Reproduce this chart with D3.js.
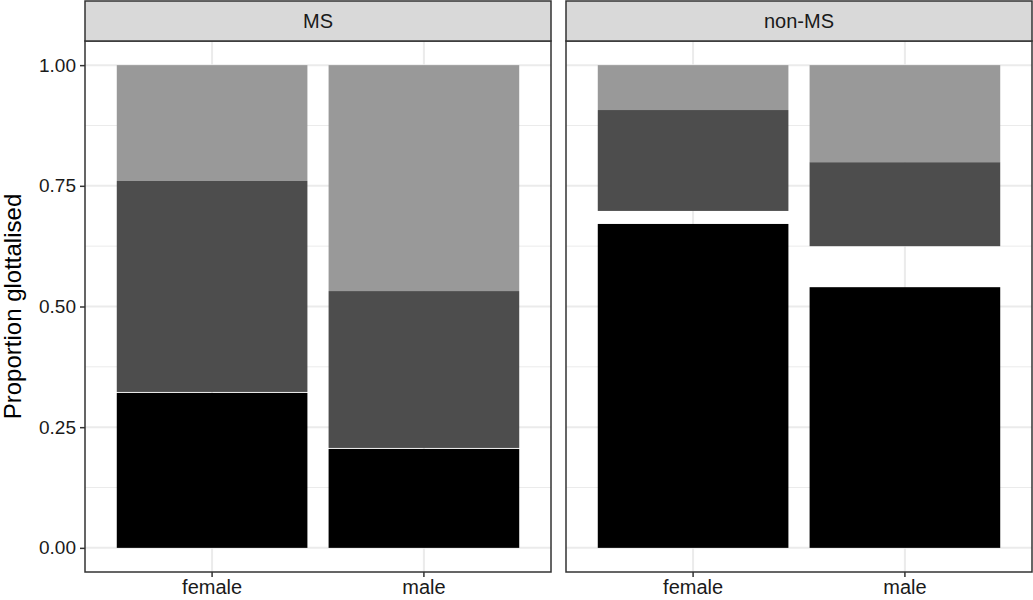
<!DOCTYPE html>
<html>
<head>
<meta charset="utf-8">
<script src="https://cdn.jsdelivr.net/npm/d3@7"></script>
<style>
  body { margin: 0; background: #fff; }
  svg { font-family: "Liberation Sans", Arial, sans-serif; }
</style>
</head>
<body>
<svg id="chart" width="1033" height="600"></svg>
<script>
// data
var facets = ["MS", "non-MS"];
var sexes = ["female", "male"];
// top of the black segment
var blackTop = [[0.321, 0.205], [0.671, 0.540]];
// dark grey segment
var darkBottom = [[0.323, 0.207], [0.698, 0.625]];
var darkTop = [[0.760, 0.532], [0.907, 0.799]];
// light grey goes up to
var lightTop = [[1, 1], [1, 1]];
var yTicks = [0, 0.25, 0.5, 0.75, 1];

var svg = d3.select("#chart");

var panelX = [85, 566];
var panelW = 466;
var panelTop = 41, panelBottom = 572, stripTop = 1;

var y = d3.scaleLinear().domain([-0.05, 1.05]).range([panelBottom, panelTop]);

facets.forEach(function (f, i) {
  var g = svg.append("g").attr("transform", "translate(" + panelX[i] + ",0)");

  var x = d3.scaleBand().domain(sexes).range([0, panelW]).paddingInner(0.1).paddingOuter(0.15);
  var band = x.bandwidth();

  // grid
  var minor = d3.range(0.125, 1, 0.25);
  g.selectAll(".minor").data(minor).enter().append("line")
    .attr("x1", 0).attr("x2", panelW)
    .attr("y1", d => y(d)).attr("y2", d => y(d))
    .attr("stroke", "#ebebeb").attr("stroke-width", 1);
  g.selectAll(".major").data(yTicks).enter().append("line")
    .attr("x1", 0).attr("x2", panelW)
    .attr("y1", d => y(d)).attr("y2", d => y(d))
    .attr("stroke", "#ebebeb").attr("stroke-width", 2);
  g.selectAll(".vmajor").data(sexes).enter().append("line")
    .attr("x1", d => x(d) + band / 2).attr("x2", d => x(d) + band / 2)
    .attr("y1", panelTop).attr("y2", panelBottom)
    .attr("stroke", "#ebebeb").attr("stroke-width", 2);

  // bars
  sexes.forEach(function (s, j) {
    var segs = [
      { lo: 0, hi: blackTop[i][j], c: "#000000" },
      { lo: darkBottom[i][j], hi: darkTop[i][j], c: "#4d4d4d" },
      { lo: darkTop[i][j], hi: lightTop[i][j], c: "#999999" }
    ];
    g.selectAll(".seg" + j).data(segs).enter().append("rect")
      .attr("x", x(s))
      .attr("width", band)
      .attr("y", d => y(d.hi))
      .attr("height", d => y(d.lo) - y(d.hi))
      .attr("fill", d => d.c);
  });

  // panel border
  g.append("rect").attr("x", 0).attr("y", panelTop).attr("width", panelW).attr("height", panelBottom - panelTop)
    .attr("fill", "none").attr("stroke", "#333333").attr("stroke-width", 1.5);

  // strip
  g.append("rect").attr("x", 0).attr("y", stripTop).attr("width", panelW).attr("height", panelTop - stripTop)
    .attr("fill", "#d9d9d9").attr("stroke", "#333333").attr("stroke-width", 1.5);
  g.append("text").attr("x", panelW / 2).attr("y", (stripTop + panelTop) / 2 + 7)
    .attr("text-anchor", "middle").attr("font-size", 20).attr("fill", "#1a1a1a").text(f);

  // x axis
  var xa = g.append("g").attr("transform", "translate(0," + panelBottom + ")")
    .call(d3.axisBottom(x).tickSize(5).tickPadding(3));
  xa.select(".domain").remove();
  xa.selectAll("line").attr("stroke", "#333333").attr("stroke-width", 1.5);
  xa.selectAll("text").attr("font-size", 20).attr("fill", "#1a1a1a")
    .attr("font-family", "Liberation Sans, Arial, sans-serif");

  if (i === 0) {
    var ya = g.append("g").call(d3.axisLeft(y).tickValues(yTicks).tickFormat(d3.format(".2f")).tickSize(5).tickPadding(4));
    ya.select(".domain").remove();
    ya.selectAll("line").attr("stroke", "#333333").attr("stroke-width", 1.5);
    ya.selectAll("text").attr("font-size", 19).attr("fill", "#1a1a1a")
      .attr("font-family", "Liberation Sans, Arial, sans-serif");
  }
});

svg.append("text")
  .attr("transform", "translate(21," + ((panelTop + panelBottom) / 2) + ") rotate(-90)")
  .attr("text-anchor", "middle").attr("font-size", 24).attr("fill", "#000")
  .text("Proportion glottalised");
</script>
</body>
</html>
